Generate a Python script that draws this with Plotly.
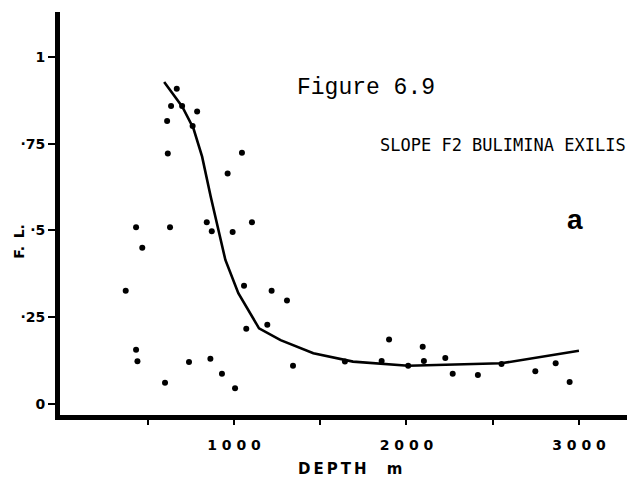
import plotly.graph_objects as go

# Scattered F.L. observations (depth in m, F.L.)
depth_pts = [668, 635, 699, 786, 612, 760, 616, 1046, 963, 432, 629, 842, 871, 992, 1104,
             468, 372, 1058, 1218, 1307, 1071, 1193, 432, 440, 739, 863, 930, 600, 1006, 1342,
             1643, 1856, 2010, 2101, 2551, 1899, 2094, 2225, 2268, 2414, 2747, 2865, 2946]
fl_pts = [0.909, 0.859, 0.859, 0.843, 0.816, 0.801, 0.722, 0.724, 0.664, 0.509, 0.509, 0.524, 0.498, 0.496, 0.524,
          0.450, 0.326, 0.341, 0.326, 0.298, 0.217, 0.228, 0.156, 0.123, 0.121, 0.130, 0.087, 0.061, 0.045, 0.110,
          0.122, 0.124, 0.110, 0.124, 0.115, 0.186, 0.165, 0.132, 0.087, 0.083, 0.094, 0.117, 0.063]

# Fitted curve
depth_fit = [595, 700, 765, 815, 865, 900, 950, 1025, 1145, 1270, 1460, 1690, 2010, 2550, 3000]
fl_fit = [0.928, 0.857, 0.794, 0.713, 0.597, 0.521, 0.415, 0.319, 0.218, 0.184, 0.146, 0.122, 0.110, 0.117, 0.153]

x_ticks = [500, 1000, 1500, 2000, 2500, 3000]
x_ticktext = ["", "<b>1 0 0 0</b>", "", "<b>2 0 0 0</b>", "", "<b>3 0 0 0</b>"]
y_ticks = [0, 0.25, 0.5, 0.75, 1]
y_ticktext = ["<b>0</b>", "<b>\u00b725</b>", "<b>\u00b75</b>", "<b>\u00b775</b>", "<b>1</b>"]

fig = go.Figure()
fig.add_trace(go.Scatter(x=depth_fit, y=fl_fit, mode="lines",
                         line=dict(color="black", width=2.6), hoverinfo="skip"))
fig.add_trace(go.Scatter(x=depth_pts, y=fl_pts, mode="markers",
                         marker=dict(color="black", size=6)))

# the page body has an 8px margin, so the figure is shrunk by that much
fig.update_layout(
    width=627, height=472,
    margin=dict(l=52, r=5, t=4, b=65),
    paper_bgcolor="white", plot_bgcolor="white",
    showlegend=False,
    xaxis=dict(range=[-9, 3296], showline=True, linecolor="black", linewidth=5,
               showgrid=False, zeroline=False, ticks="outside", ticklen=5, tickwidth=1.5,
               tickcolor="black", tickvals=x_ticks, ticktext=x_ticktext,
               tickfont=dict(family="DejaVu Sans", size=14, color="black"),
               ticklabelstandoff=8, automargin=False),
    yaxis=dict(range=[-0.032, 1.13], showline=True, linecolor="black", linewidth=5,
               showgrid=False, zeroline=False, ticks="outside", ticklen=7, tickwidth=1.5,
               tickcolor="black", tickvals=y_ticks, ticktext=y_ticktext,
               tickfont=dict(family="DejaVu Sans", size=14, color="black"),
               ticklabelstandoff=0, automargin=False),
)

fig.add_annotation(text="Figure 6.9", xref="paper", yref="paper", x=0.412, y=0.811,
                   xanchor="left", yanchor="middle", showarrow=False,
                   font=dict(family="Liberation Mono", size=23, color="black"))
fig.add_annotation(text="SLOPE F2 BULIMINA EXILIS", xref="paper", yref="paper", x=0.996, y=0.670,
                   xanchor="right", yanchor="middle", showarrow=False,
                   font=dict(family="DejaVu Sans Mono", size=17, color="black"))
fig.add_annotation(text="<b>a</b>", xref="paper", yref="paper", x=0.904, y=0.484,
                   xanchor="center", yanchor="middle", showarrow=False,
                   font=dict(family="Liberation Sans", size=28, color="black"))
fig.add_annotation(text="<b>F.\u2009 L.</b>", xref="paper", yref="paper", x=-0.072, y=0.432,
                   xanchor="center", yanchor="middle", showarrow=False, textangle=-90,
                   font=dict(family="DejaVu Sans", size=14, color="black"))
fig.add_annotation(text="<b>D\u2009E\u2009P\u2009T\u2009H\u2003 m</b>", xref="paper", yref="paper",
                   x=0.414, y=-0.135, xanchor="left", yanchor="middle", showarrow=False,
                   font=dict(family="DejaVu Sans", size=15, color="black"))

fig.write_html("out.html")
